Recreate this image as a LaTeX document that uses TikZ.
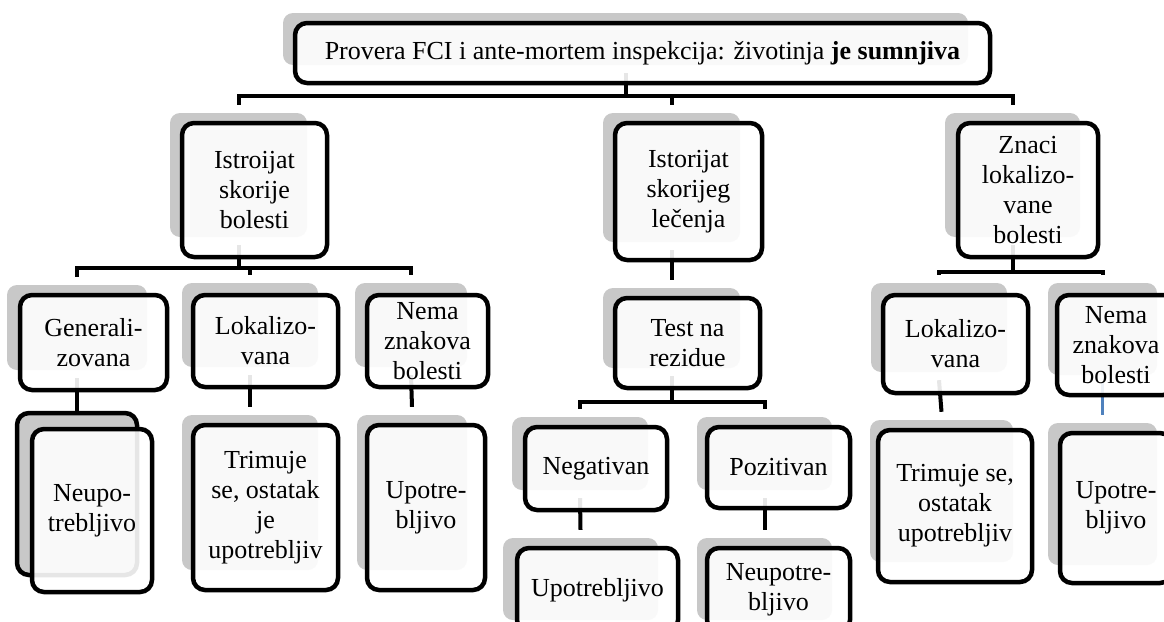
\documentclass[tikz,border=0pt]{standalone}
\usepackage{fontspec}
\setmainfont{Liberation Serif}
\usetikzlibrary{calc}
\definecolor{shadegray}{RGB}{200,200,200}
\definecolor{linkblue}{RGB}{79,129,189}
\begin{document}
\begin{tikzpicture}[x=1pt,y=-1pt,
  place/.style args={#1/#2/#3/#4}{at={({(#1+#3)/2},{(#2+#4)/2})},
    minimum width={(#3-#1)*1pt}, minimum height={(#4-#2)*1pt}},
  shade/.style={fill=shadegray, draw=none, rounded corners=10pt, inner sep=0pt},
  card/.style={draw=black, line width=4.5pt, rounded corners=12pt, fill=white,
    fill opacity=0.9, text opacity=1, align=center, inner sep=0pt,
    font=\fontsize{26}{30}\selectfont},
  conn/.style={draw=black, line width=4pt},
  blueconn/.style={draw=linkblue, line width=3pt}]
\useasboundingbox (0,0) rectangle (1164,621);
\fill[white] (0,0) rectangle (1164,621);
\clip (0,0) rectangle (1164,621);

% offset grey backdrops
\node[shade, place=283/13/968/65]    (Ts) {};
\node[shade, place=170/113/307/237]  (As) {};
\node[shade, place=603/113/740/242]  (Bs) {};
\node[shade, place=945/113/1080/237] (Cs) {};
\node[shade, place=7/285/147/370]    (Ds) {};
\node[shade, place=182/283/318/367]  (Es) {};
\node[shade, place=355/283/467/367]  (Fs) {};
\node[shade, draw=black, line width=4.5pt, rounded corners=12pt, place=17/413/137/575] (Gs) {};
\node[shade, place=182/415/318/570]  (Hs) {};
\node[shade, place=357/415/467/570]  (Is) {};
\node[shade, place=603/288/740/368]  (Js) {};
\node[shade, place=512/417/648/490]  (Ks) {};
\node[shade, place=697/417/832/490]  (Ls) {};
\node[shade, place=503/538/658/620]  (Ms) {};
\node[shade, place=697/538/832/620]  (Ns) {};
\node[shade, place=871/283/1007/372] (Os) {};
\node[shade, place=1048/283/1157/375] (Ps) {};
\node[shade, place=870/420/1013/562] (Qs) {};
\node[shade, place=1048/423/1157/565] (Rs) {};

% heights of the horizontal bars
\coordinate (barT) at (0,96);
\coordinate (barA) at (0,268);
\coordinate (barJ) at (0,402);
\coordinate (barC) at (0,272);

% connectors
\foreach \c in {As,Bs,Cs}
  \draw[conn] ([yshift=-8pt]Ts.south) -- (Ts.south |- barT) -| ([yshift=8pt]\c.north);
\foreach \c in {Ds,Es,Fs}
  \draw[conn] ([yshift=-8pt]As.south) -- (As.south |- barA) -| ([yshift=8pt]\c.north);
\foreach \c in {Ks,Ls}
  \draw[conn] ([yshift=-8pt]Js.south) -- (Js.south |- barJ) -| ([yshift=8pt]\c.north);
\foreach \c in {Os,Ps}
  \draw[conn] ([yshift=-8pt]Cs.south) -- (Cs.south |- barC) -| ([yshift=8pt]\c.north);
\draw[conn] ([yshift=-8pt]Ds.south) -- (Gs.north);
\draw[conn] ([yshift=-8pt]Es.south) -- ([yshift=8pt]Hs.north);
\draw[conn] ([yshift=-8pt]Fs.south) -- ([yshift=8pt]Is.north);
\draw[conn] ([yshift=-8pt]Bs.south) -- ([yshift=8pt]Js.north);
\draw[conn] ([yshift=-8pt]Ks.south) -- ([yshift=8pt]Ms.north);
\draw[conn] ([yshift=-8pt]Ls.south) -- ([yshift=8pt]Ns.north);
\draw[conn] ([yshift=-8pt]Os.south) -- ([yshift=8pt]Qs.north);
\draw[blueconn] ([yshift=-8pt]Ps.south) -- ([yshift=8pt]Rs.north);

% boxes
\node[card, place=295/23/990/83] (T) {Provera FCI i ante-mortem inspekcija: životinja \textbf{je sumnjiva}};
\node[card, place=182/123/327/257]  (A) {Istroijat\\skorije\\bolesti};
\node[card, place=615/123/762/260]  (B) {Istorijat\\skorijeg\\lečenja};
\node[card, place=958/123/1098/257] (C) {Znaci\\lokalizo-\\vane\\bolesti};
\node[card, place=20/295/167/390]   (D) {Generali-\\zovana};
\node[card, place=193/295/338/387]  (E) {Lokalizo-\\vana};
\node[card, place=367/295/488/387]  (F) {Nema\\znakova\\bolesti};
\node[card, place=32/429/152/592]   (G) {Neupo-\\trebljivo};
\node[card, place=193/425/338/590]  (H) {Trimuje\\se, ostatak\\je\\upotrebljiv};
\node[card, place=367/425/485/590]  (I) {Upotre-\\bljivo};
\node[card, place=615/298/760/388]  (J) {Test na\\rezidue};
\node[card, place=525/427/667/510]  (K) {Negativan};
\node[card, place=707/427/850/508]  (L) {Pozitivan};
\node[card, place=517/548/678/632]  (M) {Upotrebljivo};
\node[card, place=707/548/850/632]  (N) {Neupotre-\\bljivo};
\node[card, place=883/295/1028/393] (O) {Lokalizo-\\vana};
\node[card, place=1057/295/1175/395] (P) {Nema\\znakova\\bolesti};
\node[card, place=878/430/1032/582] (Q) {Trimuje se,\\ostatak\\upotrebljiv};
\node[card, place=1060/433/1172/583] (R) {Upotre-\\bljivo};
\end{tikzpicture}
\end{document}
